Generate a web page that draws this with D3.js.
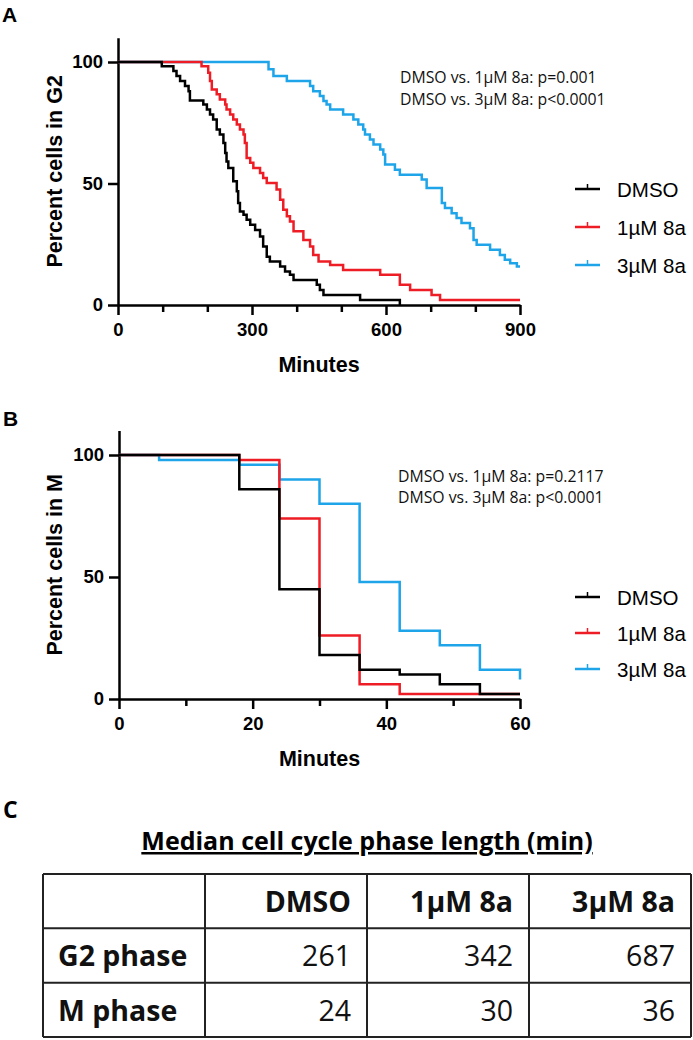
<!DOCTYPE html>
<html><head><meta charset="utf-8">
<script src="https://cdn.jsdelivr.net/npm/d3@7"></script>
<style>body{margin:0;background:#fff}svg{display:block}</style>
</head><body>
<svg id="c" width="693" height="1040"></svg>
<script>
// ---------------- DATA ----------------
const seriesNames = ["DMSO", "1µM 8a", "3µM 8a"];

// Panel A: Percent cells in G2 (Kaplan–Meier steps: time in minutes, percent after event)
const g2TimeDMSO = [0, 98, 124, 131, 139, 150, 158, 161, 191, 199, 206, 213, 221, 228, 236, 240, 243, 247, 258, 266, 269, 273, 281, 288, 296, 307, 318, 325, 333, 340, 363, 374, 385, 393, 445, 452, 460, 542, 631];
const g2PctDMSO  = [100, 98.3, 96.3, 94.2, 92.2, 90.1, 88.0, 84.2, 82.5, 80.5, 78.4, 76.3, 72.2, 70.2, 66.7, 62.6, 59.1, 56.4, 50.9, 46.8, 42.0, 38.5, 37.1, 35.1, 33.0, 30.9, 28.2, 24.1, 19.9, 17.9, 15.8, 13.8, 12.4, 10.3, 8.3, 6.2, 4.1, 2.1, 0];

const g2Time1uM = [0, 187, 202, 206, 210, 221, 228, 240, 243, 251, 258, 266, 273, 281, 284, 288, 296, 303, 318, 325, 333, 355, 363, 370, 378, 385, 393, 415, 430, 437, 449, 475, 504, 587, 631, 654, 702, 721, 900];
const g2Pct1uM  = [100, 98.3, 95.6, 92.2, 88.7, 86.7, 84.6, 82.5, 80.5, 78.4, 76.3, 74.3, 72.2, 70.2, 66.7, 60.5, 58.5, 56.4, 54.3, 52.3, 50.2, 47.5, 43.3, 39.2, 36.5, 34.4, 30.3, 26.8, 24.1, 20.6, 17.9, 16.5, 14.4, 12.4, 8.3, 6.2, 4.1, 2.1, 2.1];

const g2Time3uM = [0, 337, 348, 378, 430, 437, 452, 460, 467, 475, 504, 527, 538, 549, 553, 564, 572, 587, 594, 598, 620, 631, 680, 691, 725, 732, 747, 758, 769, 788, 796, 803, 833, 855, 866, 878, 893, 900];
const g2Pct3uM  = [100, 97.0, 94.2, 92.2, 90.1, 88.0, 86.0, 83.9, 82.5, 80.5, 78.4, 76.3, 74.3, 72.2, 70.2, 68.1, 66.0, 64.0, 61.9, 57.8, 55.7, 53.6, 51.6, 48.1, 42.0, 39.9, 37.8, 35.8, 33.7, 31.6, 26.8, 24.8, 22.7, 20.6, 18.6, 17.2, 15.8, 15.8];

// Panel B: Percent cells in M
const mTimeDMSO = [0, 18, 24, 30, 36, 42, 48, 54, 60];
const mPctDMSO  = [100, 86, 45, 18, 12, 10, 6, 2, 2];
const mTime1uM  = [0, 18, 24, 30, 36, 42, 60];
const mPct1uM   = [100, 98, 74, 26, 6, 2, 2];
const mTime3uM  = [0, 6, 18, 24, 30, 36, 42, 48, 54, 60];
const mPct3uM   = [100, 98, 96, 90, 80, 48, 28, 22, 12, 8];

const g2XTicks = [0, 300, 600, 900];
const g2XMinor = [100, 200, 400, 500, 700, 800];
const mXTicks  = [0, 20, 40, 60];
const mXMinor  = [10, 30, 50];
const yTicks   = [0, 50, 100];

const g2PText = ["DMSO vs. 1µM 8a: p=0.001", "DMSO vs. 3µM 8a: p<0.0001"];
const mPText  = ["DMSO vs. 1µM 8a: p=0.2117", "DMSO vs. 3µM 8a: p<0.0001"];

const tableTitle = "Median cell cycle phase length (min)";
const tableHeader = ["", "DMSO", "1µM 8a", "3µM 8a"];
const tableRowLabels = ["G2 phase", "M phase"];
const tableG2 = [261, 342, 687];
const tableM  = [24, 30, 36];

// ---------------- STYLE ----------------
const colors = ["#000000", "#ee1c25", "#1ea4e9"];
const ARIAL = "'Liberation Sans', Arial, sans-serif";
const CALIBRI = "'Open Sans', 'Noto Sans', sans-serif";
const svg = d3.select("#c");

function toPts(t, p) { return t.map((v, i) => ({t: v, p: p[i]})); }

function drawPanel(cfg) {
  const g = svg.append("g");
  const x = d3.scaleLinear().domain(cfg.xDomain).range(cfg.xRange);
  const y = d3.scaleLinear().domain([0, 110]).range(cfg.yRange);

  const minor = g.append("g").attr("transform", `translate(0,${cfg.yRange[0]})`)
    .call(d3.axisBottom(x).tickValues(cfg.xMinor).tickSize(7).tickFormat(""));
  minor.select(".domain").remove();

  const xa = g.append("g").attr("transform", `translate(0,${cfg.yRange[0]})`)
    .call(d3.axisBottom(x).tickValues(cfg.xTicks).tickSize(10).tickPadding(8).tickSizeOuter(0));
  const ya = g.append("g").attr("transform", `translate(${cfg.xRange[0]},0)`)
    .call(d3.axisLeft(y).tickValues(yTicks).tickSize(10).tickPadding(5).tickSizeOuter(0));

  [xa, ya, minor].forEach(a => {
    a.selectAll("path,line").attr("stroke", "#000").attr("stroke-width", 2.5);
    a.selectAll("text").attr("fill", "#000").style("font-family", ARIAL)
      .style("font-weight", "bold").style("font-size", "18.5px");
  });

  const line = d3.line().x(d => x(d.t)).y(d => y(d.p)).curve(d3.curveStepAfter);
  [2, 1, 0].forEach(i => {
    g.append("path").datum(toPts(cfg.times[i], cfg.pcts[i]))
      .attr("d", line).attr("fill", "none").attr("stroke", colors[i])
      .attr("stroke-width", 2.5).attr("stroke-linejoin", "miter");
  });

  const xMid = (cfg.xRange[0] + cfg.xRange[1]) / 2;
  g.append("text").attr("x", xMid).attr("y", cfg.xTitleY).attr("text-anchor", "middle")
    .style("font-family", ARIAL).style("font-weight", "bold").style("font-size", "21.5px")
    .text("Minutes");
  const yMid = (cfg.yRange[0] + cfg.yRange[1]) / 2;
  g.append("text").attr("transform", `translate(62,${yMid}) rotate(-90)`).attr("text-anchor", "middle")
    .style("font-family", ARIAL).style("font-weight", "bold").style("font-size", "21.5px")
    .text(cfg.yTitle);

  g.append("text").attr("x", cfg.letterX).attr("y", cfg.letterY)
    .style("font-family", ARIAL).style("font-weight", "bold").style("font-size", "21px")
    .text(cfg.letter);

  cfg.pText.forEach((s, i) => {
    g.append("text").attr("x", cfg.pX).attr("y", cfg.pY[i])
      .style("font-family", CALIBRI).style("font-size", "15.8px").attr("fill", "#111").text(s);
  });

  seriesNames.forEach((name, i) => {
    const ly = cfg.legendY[i];
    g.append("line").attr("x1", 575).attr("x2", 600).attr("y1", ly).attr("y2", ly)
      .attr("stroke", colors[i]).attr("stroke-width", 2.5);
    g.append("line").attr("x1", 587.5).attr("x2", 587.5).attr("y1", ly).attr("y2", ly - 5)
      .attr("stroke", colors[i]).attr("stroke-width", 1.5);
    g.append("text").attr("x", 617).attr("y", ly + 7.5)
      .style("font-family", ARIAL).style("font-size", "20.5px").text(name);
  });
}

drawPanel({
  xDomain: [0, 900], xRange: [118, 520], yRange: [305, 37.7],
  xTicks: g2XTicks, xMinor: g2XMinor,
  times: [g2TimeDMSO, g2Time1uM, g2Time3uM], pcts: [g2PctDMSO, g2Pct1uM, g2Pct3uM],
  xTitleY: 372, yTitle: "Percent cells in G2",
  letter: "A", letterX: 2, letterY: 22,
  pText: g2PText, pX: 400, pY: [83, 105],
  legendY: [189, 227, 265]
});

drawPanel({
  xDomain: [0, 60], xRange: [119, 520], yRange: [699, 430.6],
  xTicks: mXTicks, xMinor: mXMinor,
  times: [mTimeDMSO, mTime1uM, mTime3uM], pcts: [mPctDMSO, mPct1uM, mPct3uM],
  xTitleY: 766, yTitle: "Percent cells in M",
  letter: "B", letterX: 3, letterY: 426,
  pText: mPText, pX: 398, pY: [482, 503],
  legendY: [597, 633, 669]
});

// ---------------- TABLE (panel C) ----------------
const tg = svg.append("g");
tg.append("text").attr("x", 3).attr("y", 818)
  .style("font-family", CALIBRI).style("font-weight", "bold").style("font-size", "23px").text("C");

tg.append("text").attr("x", 367).attr("y", 850).attr("text-anchor", "middle")
  .style("font-family", CALIBRI).style("font-weight", "bold").style("font-size", "25px")
  .style("text-decoration", "underline").text(tableTitle);

const colX = d3.scaleBand().domain(d3.range(4)).range([43, 691]).padding(0);
const rowY = d3.scaleBand().domain(d3.range(3)).range([874, 1037]).padding(0);

const rows = [tableHeader, [tableRowLabels[0], ...tableG2], [tableRowLabels[1], ...tableM]];
rows.forEach((r, ri) => {
  r.forEach((cell, ci) => {
    if (cell === "") return;
    const isLabel = ci === 0;
    const bold = ri === 0 || isLabel;
    tg.append("text")
      .attr("x", isLabel ? colX(ci) + 15 : colX(ci) + colX.bandwidth() - 16)
      .attr("y", rowY(ri) + 38)
      .attr("text-anchor", isLabel ? "start" : "end")
      .style("font-family", CALIBRI).style("font-weight", bold ? "bold" : "normal")
      .style("font-size", bold ? "28.5px" : "28.5px").attr("fill", "#111")
      .text(cell);
  });
});
d3.range(5).forEach(i => {
  const xv = i < 4 ? colX(i) : colX.range()[1];
  tg.append("line").attr("x1", xv).attr("x2", xv).attr("y1", 874).attr("y2", 1037)
    .attr("stroke", "#222").attr("stroke-width", 2);
});
d3.range(4).forEach(i => {
  const yv = i < 3 ? rowY(i) : rowY.range()[1];
  tg.append("line").attr("x1", 43).attr("x2", 691).attr("y1", yv).attr("y2", yv)
    .attr("stroke", "#222").attr("stroke-width", 2);
});
</script>
</body></html>
